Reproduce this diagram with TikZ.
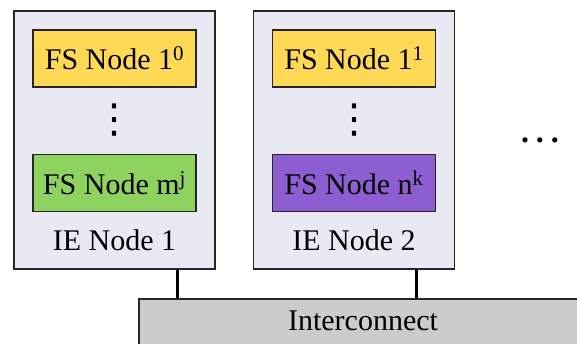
\documentclass[tikz,border=0pt]{standalone}
\usepackage{fontspec}
\setmainfont{Liberation Serif}
\newfontfamily\symbolfont{DejaVu Sans}
\definecolor{ieback}{HTML}{E9E9F4}
\definecolor{fsyellow}{HTML}{FFD955}
\definecolor{fsgreen}{HTML}{8ED35F}
\definecolor{fspurple}{HTML}{8C5ED2}
\definecolor{busgray}{HTML}{CCCCCC}
\tikzset{
  iebox/.style={draw=black!85, line width=1.5pt, fill=ieback, minimum width=201pt, minimum height=258pt, inner sep=0pt},
  fsbox/.style={draw=black!85, line width=1.5pt, minimum width=163pt, minimum height=57pt, inner sep=0pt},
  label/.style={inner sep=0pt},
  vdotsmark/.style={inner sep=0pt, font=\symbolfont\fontsize{40}{40}\selectfont},
  link/.style={line width=3pt},
}
\begin{document}
\begin{tikzpicture}[x=1pt, y=-1pt, font=\fontsize{30}{36}\selectfont]
\useasboundingbox (0,0) rectangle (577,343);
\clip (0,0) rectangle (577,343);

% interconnect bus
\node[draw=black!85, line width=1.5pt, fill=busgray, minimum width=450pt, minimum height=60pt, anchor=north west, inner sep=0pt] (bus) at (138,298) {};
\node[label] (bustext) at (363,321) {Interconnect};

% IE node 1
\node[iebox] (ie1) at (114.5,140) {};
\node[fsbox, fill=fsyellow] (fs10) at (114.5,58.5) {FS Node 1\textsuperscript{0}};
\node[fsbox, fill=fsgreen] (fsmj) at (114.5,183) {FS Node m\textsuperscript{j}};
\node[label] (ie1text) at (114.5,240) {IE Node 1};
\node[vdotsmark] (dots1) at (114.5,120.5) {⋮};

% IE node 2
\node[iebox] (ie2) at (354,140) {};
\node[fsbox, fill=fsyellow] (fs11) at (354,58.5) {FS Node 1\textsuperscript{1}};
\node[fsbox, fill=fspurple] (fsnk) at (354,183) {FS Node n\textsuperscript{k}};
\node[label] (ie2text) at (354,240) {IE Node 2};
\node[vdotsmark] (dots2) at (354,120.5) {⋮};

% further IE nodes
\node[label, font=\fontsize{32}{36}\selectfont\bfseries] (more) at (540,140) {.\kern7pt.\kern7pt.};

% links to the interconnect
\draw[link] ([xshift=-38pt]ie1.south east) coordinate (l1) -- (l1 |- bus.north);
\draw[link] ([xshift=-39pt]ie2.south east) coordinate (l2) -- (l2 |- bus.north);
\end{tikzpicture}
\end{document}
